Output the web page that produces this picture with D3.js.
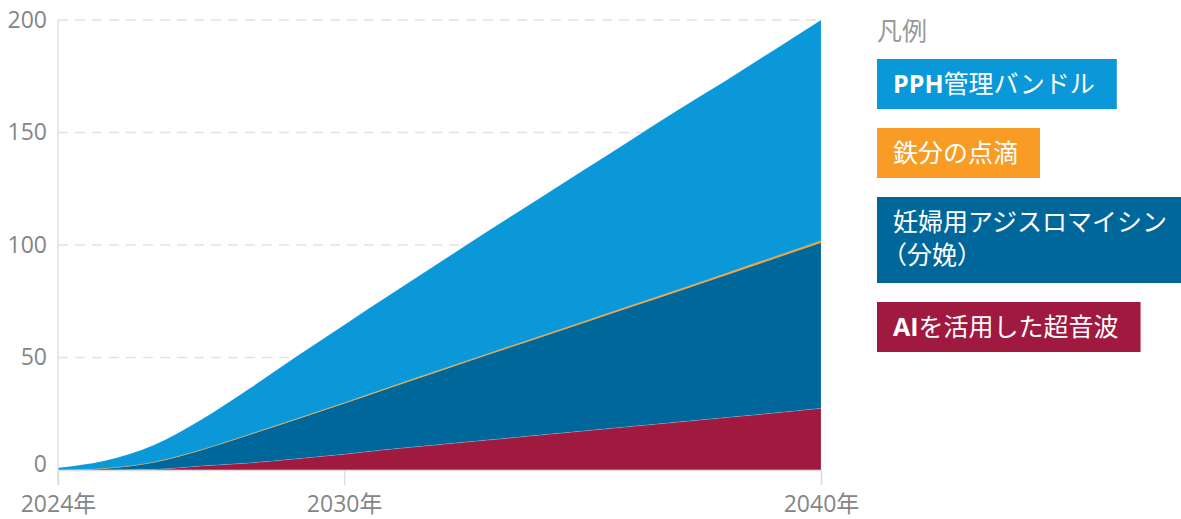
<!DOCTYPE html>
<html>
<head>
<meta charset="utf-8">
<script src="https://cdn.jsdelivr.net/npm/d3@7"></script>
<style>
  body { margin: 0; background: #fff; }
  svg { display: block; font-family: "Open Sans", "Noto Sans CJK JP", sans-serif; }
</style>
</head>
<body>
<div id="chart"></div>
<script>
// years on the x axis
var years = [2024, 2025, 2026, 2027, 2028, 2029, 2030, 2031, 2032, 2033, 2034, 2035, 2036, 2037, 2038, 2039, 2040];

// stacked series, bottom to top
var aiUltrasound = [0, 0, 0.3, 1.8, 3.1, 5.0, 7.0, 9.3, 11.3, 13.3, 15.3, 17.3, 19.3, 21.3, 23.3, 25.3, 27.4];
var azithromycin = [0, 0.8, 3.15, 7.1, 12.55, 17.6, 22.65, 27.6, 32.75, 37.9, 42.95, 48, 53.15, 58.2, 63.35, 68.6, 73.75];
var ironInfusion = [0, 0, 0.05, 0.1, 0.15, 0.2, 0.25, 0.3, 0.35, 0.4, 0.45, 0.5, 0.55, 0.6, 0.65, 0.7, 0.75];
var pphBundle = [1, 3.4, 7.5, 13.3, 20.2, 27.7, 34.6, 41.2, 47.8, 54.4, 60.8, 67.2, 73.5, 79.9, 85.7, 91.9, 98.1];

var yTicks = [0, 50, 100, 150, 200];
var xTicks = [2024, 2030, 2040];
var xTickLabels = ["2024年", "2030年", "2040年"];

var keys = ["ai", "azi", "iron", "pph"];
var legendTitle = "凡例";
// legend order, top to bottom
var legendItems = [
  {key: "pph", bold: "PPH", rest: ["管理バンドル"]},
  {key: "iron", bold: "", rest: ["鉄分の点滴"]},
  {key: "azi", bold: "", rest: ["妊婦用アジスロマイシン", "（分娩）"]},
  {key: "ai", bold: "AI", rest: ["を活用した超音波"]}
];

var color = d3.scaleOrdinal()
  .domain(keys)
  .range(["#a0193f", "#00679b", "#f89c26", "#0a98d8"]);

var table = years.map(function(yr, i) {
  return {year: yr, ai: aiUltrasound[i], azi: azithromycin[i], iron: ironInfusion[i], pph: pphBundle[i]};
});

var svg = d3.select("#chart")
  .append("svg")
  .attr("width", 1181)
  .attr("height", 519);

var x = d3.scaleLinear()
  .domain([2024, 2040])
  .range([58, 821]);

var y = d3.scaleLinear()
  .domain([0, 200])
  .range([470, 20]);

// dashed gridlines
svg.append("g")
  .selectAll("line")
  .data(yTicks.filter(function(d) { return d > 0; }))
  .enter()
  .append("line")
    .attr("x1", x(2024))
    .attr("x2", x(2040))
    .attr("y1", function(d) { return y(d); })
    .attr("y2", function(d) { return y(d); })
    .attr("stroke", "#e2e2e2")
    .attr("stroke-width", 1.3)
    .attr("stroke-dasharray", "10,7");

var stack = d3.stack().keys(keys);
var series = stack(table);

var area = d3.area()
  .curve(d3.curveMonotoneX)
  .x(function(d) { return x(d.data.year); })
  .y0(function(d) { return y(d[0]); })
  .y1(function(d) { return y(d[1]); });

svg.append("g")
  .selectAll("path")
  .data(series)
  .enter()
  .append("path")
    .attr("d", area)
    .attr("fill", function(d) { return color(d.key); })
    .attr("stroke", function(d) { return d.key == "iron" ? color(d.key) : "#ffffff"; })
    .attr("stroke-width", function(d) { return d.key == "iron" ? 0.6 : 0.4; })
    .attr("stroke-opacity", function(d) { return d.key == "iron" ? 1 : 0.35; });

// left axis line
svg.append("line")
  .attr("x1", x(2024)).attr("x2", x(2024))
  .attr("y1", y(200)).attr("y2", 485)
  .attr("stroke", "#dcdcdc")
  .attr("stroke-width", 1.3);

// y axis labels
var yAxis = svg.append("g")
  .attr("transform", "translate(" + 47 + ",0)")
  .call(d3.axisLeft(y).tickValues(yTicks).tickSize(0).tickPadding(0));
yAxis.select(".domain").remove();
yAxis.selectAll("text")
  .attr("font-family", "Open Sans, Noto Sans CJK JP, sans-serif")
  .attr("font-size", 23)
  .attr("fill", "#858585")
  .attr("dy", function(d) { return d == 0 ? "0.05em" : "0.32em"; });

// x axis
var xAxis = svg.append("g")
  .attr("transform", "translate(0," + y(0) + ")")
  .call(d3.axisBottom(x).tickValues(xTicks).tickSize(15).tickPadding(11)
    .tickFormat(function(d, i) { return xTickLabels[i]; }));
xAxis.select(".domain")
  .attr("stroke", "#dcdcdc")
  .attr("stroke-width", 1.3);
xAxis.selectAll(".tick line")
  .attr("stroke", "#dcdcdc")
  .attr("stroke-width", 1.3);
xAxis.selectAll("text")
  .attr("font-family", "Open Sans, Noto Sans CJK JP, sans-serif")
  .attr("font-size", 23)
  .attr("fill", "#858585");

// legend
svg.append("text")
  .attr("x", 877)
  .attr("y", 40)
  .attr("font-size", 25)
  .attr("fill", "#999999")
  .text(legendTitle);

var boxTops = [59, 128, 197, 302];
var boxHeights = [50, 50, 86, 50];

legendItems.forEach(function(item, i) {
  var g = svg.append("g");
  var rect = g.append("rect")
    .attr("x", 877)
    .attr("y", boxTops[i])
    .attr("height", boxHeights[i])
    .attr("fill", color(item.key));

  var maxW = 0;
  item.rest.forEach(function(line, j) {
    var t = g.append("text")
      .attr("x", line.charAt(0) == "（" ? 882 : 893)
      .attr("y", boxTops[i] + 34 + j * 33)
      .attr("font-size", 25)
      .attr("fill", "#ffffff");
    if (j == 0 && item.bold) {
      t.append("tspan").attr("font-weight", "bold").text(item.bold);
    }
    t.append("tspan").text(line);
    maxW = Math.max(maxW, t.node().getComputedTextLength());
  });
  rect.attr("width", Math.min(maxW + 38, 1181 - 877));
});
</script>
</body>
</html>
